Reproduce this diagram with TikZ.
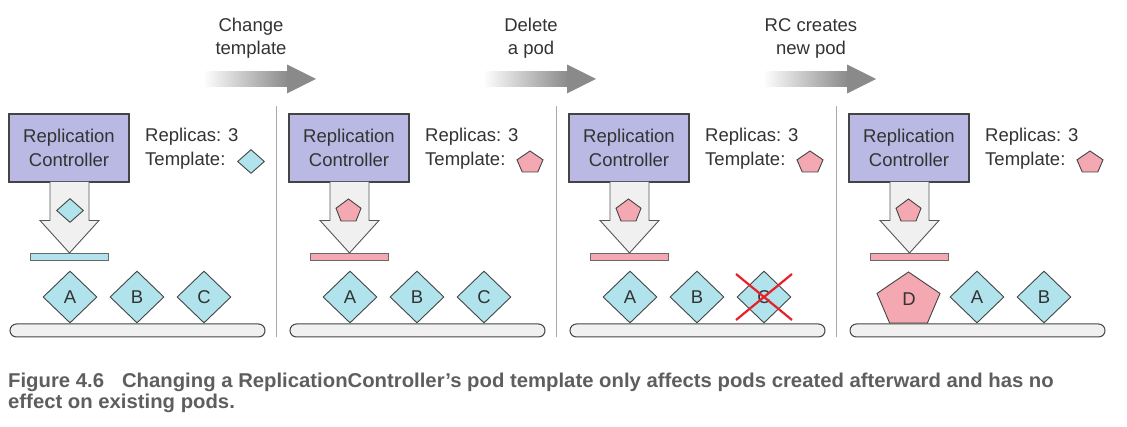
\documentclass[tikz,border=0pt]{standalone}
\usepackage{fontspec}
\setmainfont{Liberation Sans}
\newfontfamily\capfont{Liberation Sans}[FakeStretch=1.015]
\usetikzlibrary{shapes.geometric,calc}

\definecolor{ink}{HTML}{333333}
\definecolor{edge}{HTML}{444444}
\definecolor{rcfill}{HTML}{B9B9E4}
\definecolor{podcyan}{HTML}{B0E3EB}
\definecolor{podpink}{HTML}{F4A8B1}
\definecolor{lightfill}{HTML}{F0F0F0}
\definecolor{arrowgray}{HTML}{8A8A8A}
\definecolor{sepgray}{HTML}{A8A8A8}
\definecolor{xred}{HTML}{E8202A}
\definecolor{capgray}{HTML}{5E5E5E}

\tikzset{
  pentpod/.pic={\path[draw=edge,fill=podpink,line width=0.9pt]
    (0,-0.5) -- (0.5,-0.08) -- (0.3,0.5) -- (-0.3,0.5) -- (-0.5,-0.08) -- cycle;}
}

\begin{document}
\begin{tikzpicture}[x=1pt,y=-1pt,font=\fontsize{18.5}{24}\selectfont,
  rcbox/.style={draw=edge,fill=rcfill,line width=1.1pt,minimum width=120pt,minimum height=68pt,align=center,text=ink,inner sep=0pt},
  info/.style={anchor=west,text=ink,inner sep=0pt},
  pod/.style={diamond,draw=edge,fill=podcyan,line width=0.9pt,minimum width=54pt,minimum height=52pt,inner sep=0pt,text=ink},
  tinypod/.style={pod,minimum width=27pt,minimum height=24pt},
  bar/.style={draw=edge!80,line width=0.7pt,minimum width=78pt,minimum height=7pt,inner sep=0pt},
  base/.style={draw=edge,fill=lightfill,line width=1pt,rounded corners=6.5pt,minimum width=255pt,minimum height=13pt,inner sep=0pt},
  downarrow/.style={draw=edge!90,fill=lightfill,line width=0.9pt,line join=miter},
  steplabel/.style={align=center,text=ink,inner sep=0pt,font=\fontsize{18.5}{23}\selectfont},
  sep/.style={draw=sepgray,line width=1pt},
  cross/.style={draw=xred,line width=2.2pt},
  caption/.style={anchor=base west,inner sep=0pt,text=capgray,font=\capfont\bfseries\fontsize{20}{22}\selectfont}]
\useasboundingbox (0,0) rectangle (1127,427);

% step arrows on top
\foreach \i/\o/\txt in {1/0/{Change\\template},2/280/{Delete\\a pod},3/560/{RC creates\\new pod}}{
  \node[steplabel] (lab\i) at (\o+251,38.5) {\txt};
  \shade[left color=white,right color=arrowgray] (\o+203,71.5) rectangle (\o+288,86.5);
  \fill[arrowgray] (\o+287,64.5) -- (\o+316,79) -- (\o+287,93.5) -- cycle;
}

% separators
\draw[sep] (276,106) -- (276,337);
\draw[sep] (556,106) -- (556,337);
\draw[sep] (836,106) -- (836,337);

% the four states
\foreach \i/\o/\tc in {1/0/podcyan,2/280/podpink,3/560/podpink,4/840/podpink}{
  \node[rcbox] (rc\i) at (\o+69,148) {Replication\\Controller};
  \node[info] (rep\i) at (\o+145,137) {Replicas: 3};
  \node[info] (tpl\i) at (\o+145,161) {Template:};
  \draw[downarrow] (\o+50,182) -- (\o+50,220.5) -- (\o+40,220.5) -- (\o+69.5,253)
    -- (\o+99,220.5) -- (\o+89,220.5) -- (\o+89,182);
  \node[bar,fill=\tc] (bar\i) at (\o+69,256.5) {};
  \node[base] (base\i) at (\o+137.5,330.5) {};
}

% templates
\node[tinypod] (tpl1icon) at (251,161.5) {};
\node[tinypod] (arr1icon) at (70,210.5) {};
\pic[shift={(530,161.5)},xscale=26,yscale=21] {pentpod};
\pic[shift={(348.5,210)},xscale=25,yscale=22] {pentpod};
\pic[shift={(810,161.5)},xscale=26,yscale=21] {pentpod};
\pic[shift={(628.5,210)},xscale=25,yscale=22] {pentpod};
\pic[shift={(1090,161.5)},xscale=26,yscale=21] {pentpod};
\pic[shift={(908.5,210)},xscale=25,yscale=22] {pentpod};

% pods
\node[pod] (a1) at (70,297) {A};
\node[pod] (b1) at (137,297) {B};
\node[pod] (c1) at (204,297) {C};
\node[pod] (a2) at (350,297) {A};
\node[pod] (b2) at (417,297) {B};
\node[pod] (c2) at (484,297) {C};
\node[pod] (a3) at (630,297) {A};
\node[pod] (b3) at (697,297) {B};
\node[pod] (c3) at (764,297) {C};
\draw[cross] ($(c3)+(-28,-23)$) -- ($(c3)+(28,23)$);
\draw[cross] ($(c3)+(28,-23)$) -- ($(c3)+(-28,23)$);
\pic[shift={(908.5,297.5)},xscale=63,yscale=51] {pentpod};
\node[text=ink] (d4) at (909,299) {D};
\node[pod] (a4) at (977,297) {A};
\node[pod] (b4) at (1044,297) {B};

% caption
\node[caption] (cap1) at (8,388) {Figure 4.6\hspace{0.9em}Changing a ReplicationController’s pod template only affects pods created afterward and has no};
\node[caption] (cap2) at (8,408) {effect on existing pods.};
\end{tikzpicture}
\end{document}
